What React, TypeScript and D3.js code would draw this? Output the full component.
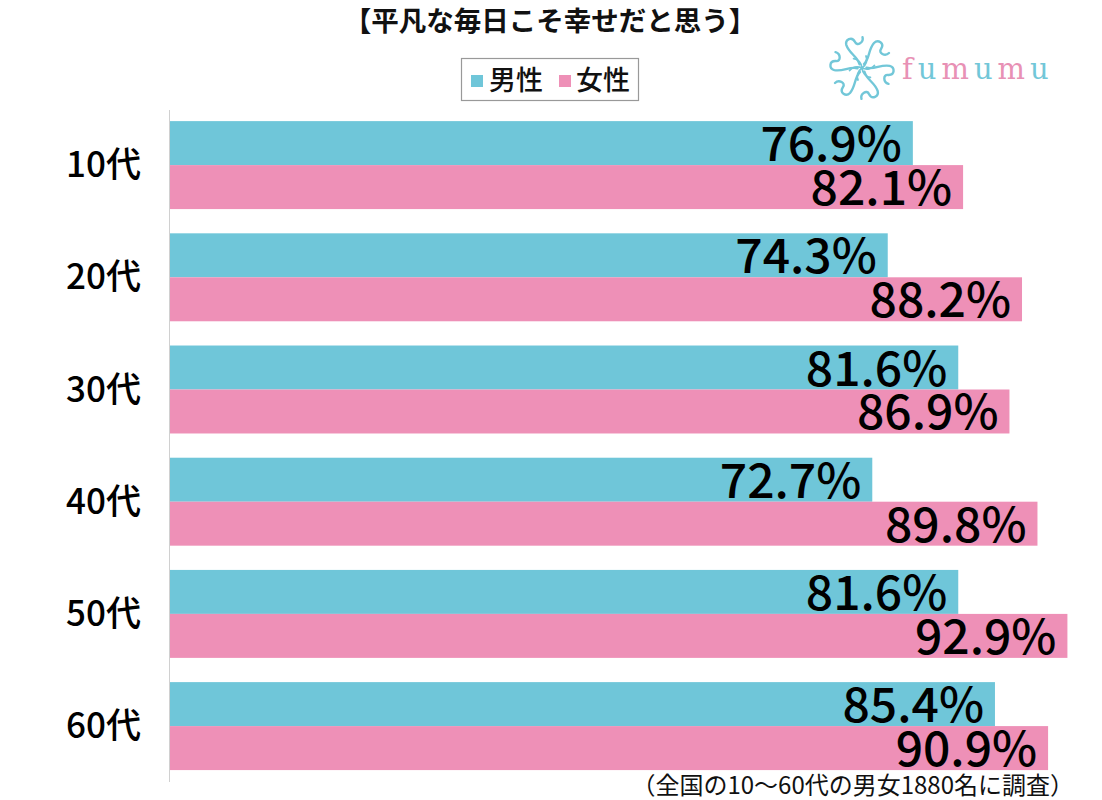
import React from "react";
import * as d3 from "d3";

const categories = ["10代", "20代", "30代", "40代", "50代", "60代"];
const maleValues = [76.9, 74.3, 81.6, 72.7, 81.6, 85.4];
const femaleValues = [82.1, 88.2, 86.9, 89.8, 92.9, 90.9];
const seriesNames = ["男性", "女性"];
const title = "【平凡な毎日こそ幸せだと思う】";
const footnote = "（全国の10～60代の男女1880名に調査）";
const logoLetters = ["f", "u", "m", "u", "m", "u"];

const W = 1102;
const H = 800;
const MALE = "#6fc6d9";
const FEMALE = "#ee90b7";
const FONT = "'Noto Sans CJK JP', 'Noto Sans', sans-serif";

function Flower({ cx, cy }: { cx: number; cy: number }) {
  const petal = d3.path();
  petal.moveTo(2, -4);
  petal.bezierCurveTo(8, -10, 6, -18, 12, -25);
  petal.bezierCurveTo(16, -29, 23, -25, 19, -19);
  petal.bezierCurveTo(16, -15, 23, -11, 27, -15);
  const inner = d3.path();
  inner.moveTo(0, 0);
  inner.bezierCurveTo(4, -3, 6, -8, 4, -12);
  const angles = d3.range(6).map((i) => i * 60);
  return (
    <g transform={`translate(${cx},${cy})`} fill="none" stroke="#72c7d8" strokeWidth={2.4} strokeLinecap="round">
      {angles.map((a) => (
        <g key={a} transform={`rotate(${a})`}>
          <path d={petal.toString()} />
          <path d={inner.toString()} strokeWidth={1.8} />
        </g>
      ))}
    </g>
  );
}

export default function App() {
  const x = d3.scaleLinear().domain([0, 100]).range([170, 1136]);
  const y = d3
    .scaleBand<string>()
    .domain(categories)
    .range([109, 782.2])
    .paddingInner(0.216)
    .paddingOuter(0.108);
  const bw = y.bandwidth();
  const half = bw / 2;

  const rows = categories.map((c, i) => ({ c, m: maleValues[i], f: femaleValues[i] }));

  return (
    <svg width={W} height={H} style={{ position: "absolute", left: 0, top: 0, background: "#fff" }} fontFamily={FONT}>
      <rect x={0} y={0} width={W} height={H} fill="#fff" />
      <text x={550} y={31} textAnchor="middle" fontSize={27.5} fontWeight={700} fill="#111">
        {title}
      </text>

      {/* legend */}
      <rect x={461.5} y={58.5} width={177} height={42} fill="#fff" stroke="#999" strokeWidth={1.2} />
      <rect x={471} y={75} width={12} height={12} fill={MALE} />
      <text x={489} y={90} fontSize={27} fontWeight={500} fill="#111">{seriesNames[0]}</text>
      <rect x={559} y={75} width={12} height={12} fill={FEMALE} />
      <text x={576} y={90} fontSize={27} fontWeight={500} fill="#111">{seriesNames[1]}</text>

      {/* logo */}
      <Flower cx={862} cy={68} />
      <text x={902} y={79} fontFamily="'DejaVu Serif', 'Liberation Serif', serif" fontSize={29} letterSpacing={5}>
        {logoLetters.map((l, i) => (
          <tspan key={i} fill={l === "u" ? "#72c7d8" : "#e891b5"}>
            {l}
          </tspan>
        ))}
      </text>

      {/* axis line */}
      <line x1={169.5} x2={169.5} y1={110} y2={782} stroke="#d0d0d0" strokeWidth={1} />

      {rows.map((r) => {
        const y0 = y(r.c)!;
        return (
          <g key={r.c}>
            <rect x={x(0)} y={y0} width={x(r.m) - x(0)} height={half} fill={MALE} />
            <rect x={x(0)} y={y0 + half} width={x(r.f) - x(0)} height={half} fill={FEMALE} />
            <text x={x(r.m) - 11} y={y0 + half - 4} textAnchor="end" fontSize={48} fontWeight={500} fill="#000">
              {r.m.toFixed(1)}%
            </text>
            <text x={x(r.f) - 11} y={y0 + bw - 4} textAnchor="end" fontSize={48} fontWeight={500} fill="#000">
              {r.f.toFixed(1)}%
            </text>
            <text x={141} y={y0 + half + 12} textAnchor="end" fontSize={35} fontWeight={500} fill="#000">
              {r.c}
            </text>
          </g>
        );
      })}

      <text x={1074} y={794} textAnchor="end" fontSize={24} fill="#111">
        {footnote}
      </text>
    </svg>
  );
}
